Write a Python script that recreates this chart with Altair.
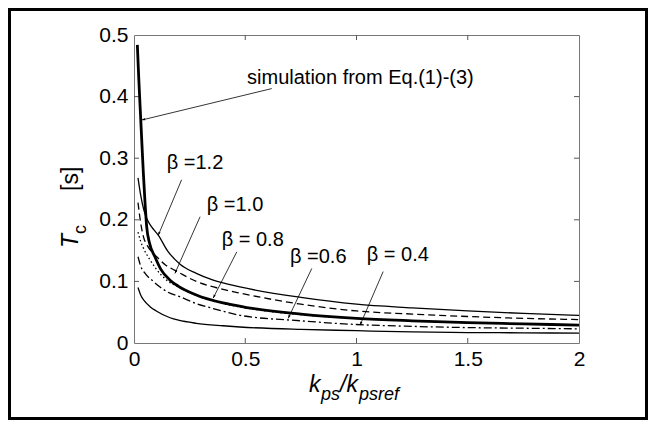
import math
import altair as alt
import pandas as pd

# ---------------- data ----------------
x_sim = [0.015, 0.022, 0.030, 0.036, 0.042, 0.050, 0.057, 0.070, 0.094, 0.120, 0.162, 0.200, 0.280, 0.400, 0.500, 0.750, 1.000, 1.250, 1.500, 1.750, 2.000]
y_sim = [0.484, 0.425, 0.365, 0.320, 0.276, 0.225, 0.189, 0.162, 0.140, 0.120, 0.102, 0.092, 0.078, 0.065, 0.058, 0.047, 0.040, 0.036, 0.033, 0.031, 0.029]

x_b12 = [0.018, 0.030, 0.045, 0.060, 0.080, 0.109, 0.150, 0.207, 0.280, 0.356, 0.476, 0.750, 1.000, 1.250, 1.500, 1.750, 2.000]
y_b12 = [0.268, 0.240, 0.215, 0.200, 0.188, 0.175, 0.150, 0.128, 0.113, 0.102, 0.091, 0.074, 0.063, 0.057, 0.052, 0.048, 0.045]

x_b10 = [0.018, 0.030, 0.042, 0.060, 0.080, 0.102, 0.140, 0.184, 0.280, 0.400, 0.476, 0.750, 1.000, 1.250, 1.500, 1.750, 2.000]
y_b10 = [0.228, 0.195, 0.173, 0.158, 0.148, 0.140, 0.127, 0.118, 0.100, 0.087, 0.081, 0.063, 0.052, 0.047, 0.043, 0.040, 0.038]

x_b08 = [0.018, 0.030, 0.045, 0.072, 0.100, 0.147, 0.200, 0.280, 0.400, 0.500, 0.750, 1.000, 1.250, 1.500, 1.750, 2.000]
y_b08 = [0.180, 0.165, 0.152, 0.135, 0.120, 0.102, 0.091, 0.077, 0.064, 0.057, 0.046, 0.040, 0.036, 0.033, 0.031, 0.029]

x_b06 = [0.018, 0.030, 0.050, 0.087, 0.120, 0.150, 0.207, 0.280, 0.356, 0.476, 0.750, 1.000, 1.250, 1.500, 1.750, 2.000]
y_b06 = [0.140, 0.125, 0.113, 0.100, 0.090, 0.083, 0.075, 0.064, 0.056, 0.045, 0.036, 0.030, 0.027, 0.025, 0.024, 0.023]

x_b04 = [0.018, 0.030, 0.045, 0.072, 0.100, 0.162, 0.200, 0.280, 0.400, 0.476, 0.750, 1.000, 1.250, 1.500, 1.750, 2.000]
y_b04 = [0.090, 0.078, 0.069, 0.059, 0.052, 0.041, 0.037, 0.032, 0.028, 0.026, 0.022, 0.020, 0.018, 0.017, 0.0165, 0.016]

x_ticks = [0, 0.5, 1, 1.5, 2]
y_ticks = [0, 0.1, 0.2, 0.3, 0.4, 0.5]

# annotations: label text, label anchor, arrow tail, arrow tip (data units)
ann_text = ["simulation from Eq.(1)-(3)", "β =1.2", "β =1.0", "β = 0.8", "β =0.6", "β = 0.4"]
ann_tx = [0.508, 0.147, 0.327, 0.394, 0.701, 1.046]
ann_ty = [0.430, 0.292, 0.224, 0.167, 0.140, 0.143]
ann_size = [20, 20, 20, 20, 20, 20]
arr_x0 = [0.619, 0.214, 0.297, 0.462, 0.799, 1.120]
arr_y0 = [0.413, 0.265, 0.205, 0.148, 0.121, 0.116]
arr_x1 = [0.035, 0.109, 0.184, 0.356, 0.693, 1.016]
arr_y1 = [0.362, 0.175, 0.113, 0.073, 0.040, 0.029]

# ---------------- layout ----------------
W, H = 445, 308
FONT = "Liberation Sans"
xs = alt.Scale(domain=[0, 2], nice=False, zero=False)
ys = alt.Scale(domain=[0, 0.5], nice=False)


def curve(xv, yv, width, dash=None):
    df = pd.DataFrame({"x": xv, "y": yv})
    kw = dict(color="black", strokeWidth=width, interpolate="monotone", clip=True)
    if dash:
        kw["strokeDash"] = dash
    return alt.Chart(df).mark_line(**kw).encode(
        x=alt.X("x:Q", scale=xs), y=alt.Y("y:Q", scale=ys)
    )


base_axes = alt.Chart(pd.DataFrame({"x": [0.0], "y": [0.0]})).mark_point(opacity=0).encode(
    x=alt.X("x:Q", scale=xs, title="",
            axis=alt.Axis(values=x_ticks, format="~g", grid=False, ticks=False, domain=False,
                          labelFont=FONT, labelFontSize=21, labelColor="black",
                          labelPadding=5, labelFlush=False, labelOverlap=False)),
    y=alt.Y("y:Q", scale=ys, title="",
            axis=alt.Axis(values=y_ticks, format="~g", grid=False, ticks=False, domain=False,
                          labelFont=FONT, labelFontSize=21, labelColor="black",
                          labelPadding=6, labelFlush=False, labelOverlap=False)),
)

# inward tick marks (MATLAB style)
xt = pd.DataFrame({"x": x_ticks[1:-1]})
yt = pd.DataFrame({"y": y_ticks[1:-1]})
tick_col = "#555555"
ticks = [
    alt.Chart(xt).mark_rule(color=tick_col, strokeWidth=1).encode(x=alt.X("x:Q", scale=xs), y=alt.value(H), y2=alt.value(H - 5)),
    alt.Chart(xt).mark_rule(color=tick_col, strokeWidth=1).encode(x=alt.X("x:Q", scale=xs), y=alt.value(0), y2=alt.value(5)),
    alt.Chart(yt).mark_rule(color=tick_col, strokeWidth=1).encode(y=alt.Y("y:Q", scale=ys), x=alt.value(0), x2=alt.value(5)),
    alt.Chart(yt).mark_rule(color=tick_col, strokeWidth=1).encode(y=alt.Y("y:Q", scale=ys), x=alt.value(W), x2=alt.value(W - 5)),
]

curves = [
    curve(x_b12, y_b12, 1.3),
    curve(x_b10, y_b10, 1.3, [7, 4]),
    curve(x_b08, y_b08, 1.3, [1.5, 2.5]),
    curve(x_b06, y_b06, 1.3, [8, 3, 2, 3]),
    curve(x_b04, y_b04, 1.3),
    curve(x_sim, y_sim, 2.8),
]

# annotations
sx, sy = W / 2.0, H / 0.5
angles = []
for a, b, c, d in zip(arr_x0, arr_y0, arr_x1, arr_y1):
    dx = (c - a) * sx
    dy = -(d - b) * sy
    ang = math.degrees(math.atan2(dx, -dy)) % 360
    angles.append(ang)

arr_df = pd.DataFrame({"x0": arr_x0, "y0": arr_y0, "x1": arr_x1, "y1": arr_y1, "ang": angles})
txt_df = pd.DataFrame({"x": ann_tx, "y": ann_ty, "t": ann_text, "s": ann_size})

shafts = alt.Chart(arr_df).mark_rule(color="black", strokeWidth=0.8).encode(
    x=alt.X("x0:Q", scale=xs), y=alt.Y("y0:Q", scale=ys), x2="x1:Q", y2="y1:Q"
)
heads = alt.Chart(arr_df).mark_point(
    shape="M0,0L-0.35,1L0.35,1Z", filled=True, color="black", size=45, opacity=1
).encode(
    x=alt.X("x1:Q", scale=xs), y=alt.Y("y1:Q", scale=ys), angle=alt.Angle("ang:Q", scale=None)
)
labels = alt.Chart(txt_df).mark_text(align="left", baseline="middle", font=FONT, color="black").encode(
    x=alt.X("x:Q", scale=xs), y=alt.Y("y:Q", scale=ys), text="t:N", size=alt.Size("s:Q", scale=None)
)

# axis titles with subscripts (pixel placement relative to plot area)
tt = pd.DataFrame({"a": [0]})


def piece(text, px, py, size, italic=True, angle=0, align="left"):
    kw = dict(text=text, align=align, baseline="alphabetic", font=FONT, fontSize=size, color="black")
    if italic:
        kw["fontStyle"] = "italic"
    if angle:
        kw["angle"] = angle
    return alt.Chart(tt).mark_text(**kw).encode(x=alt.value(px), y=alt.value(py))


title_pieces = [
    piece("k", 175, 357, 23),
    piece("ps", 187, 365, 18),
    piece("/k", 206, 357, 23),
    piece("psref", 225, 365, 18),
    piece("T", -56, 213, 23, angle=270),
    piece("c", -48, 199, 18, italic=False, angle=270),
    piece("[s]", -56, 156, 23, italic=False, angle=270),
]

frame = alt.Chart(tt).mark_rect(fillOpacity=0, stroke="black", strokeWidth=3, clip=False).encode(
    x=alt.value(-124.5), x2=alt.value(512.5), y=alt.value(-25.5), y2=alt.value(383.5)
)

chart = alt.layer(
    base_axes, *ticks, *curves, shafts, heads, labels, *title_pieces, frame
).properties(
    width=W, height=H, padding=0, background="white"
).configure_view(stroke="#777777", strokeWidth=1)

chart.save("out.html", embed_options={"renderer": "svg", "actions": False})
